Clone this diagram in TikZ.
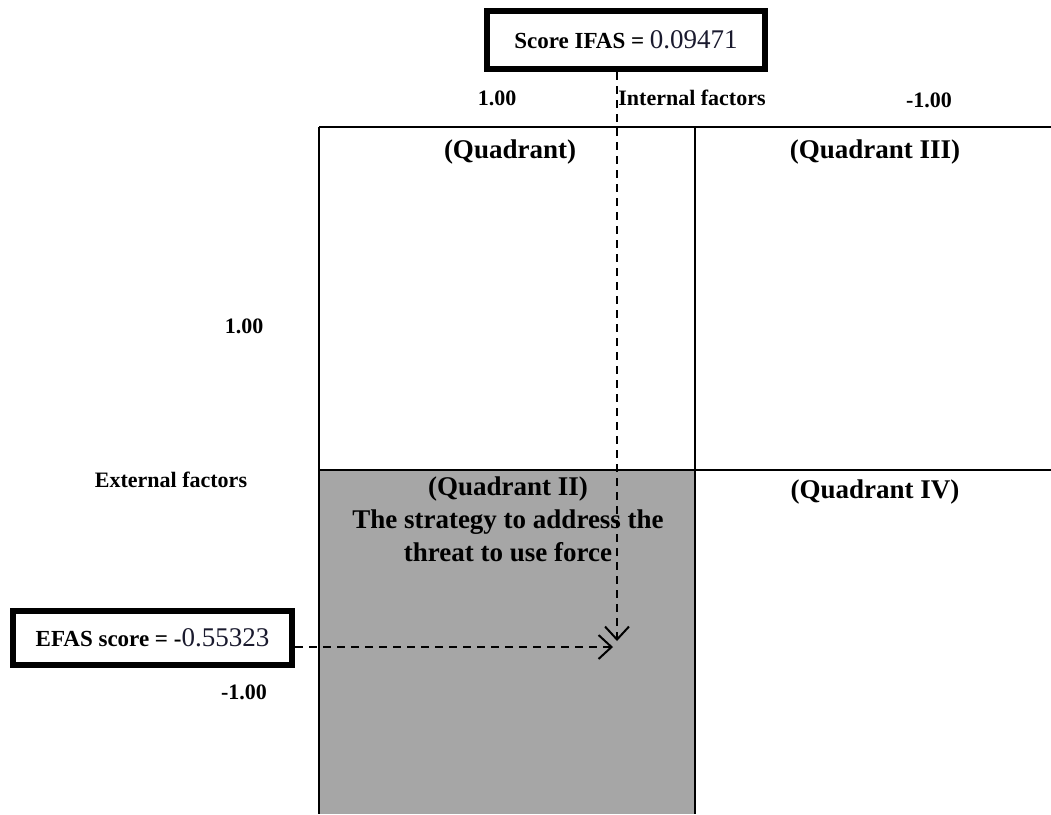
\documentclass[tikz,border=0pt]{standalone}
\usepackage{fontspec}
\setmainfont{Liberation Serif}
\usetikzlibrary{arrows.meta}
\definecolor{quadgray}{HTML}{A6A6A6}
\definecolor{numcol}{HTML}{1A1A2E}
\tikzset{
  lbl/.style={font=\fontsize{22}{26}\selectfont\bfseries, inner sep=0pt},
  quad/.style={font=\fontsize{27}{33}\selectfont\bfseries, inner sep=0pt, align=center},
  scorebox/.style={draw, line width=6pt, inner sep=0pt, font=\fontsize{23}{26}\selectfont\bfseries},
  gridline/.style={line width=1.2pt},
  dashline/.style={line width=2pt, dash pattern=on 8pt off 6pt, -{Straight Barb[length=13pt,width=24pt,line width=2pt]}}
}
\begin{document}
\begin{tikzpicture}[x=1pt,y=-1pt]
\useasboundingbox (0,0) rectangle (1051,814);
% gray quadrant
\fill[quadgray] (319,470) rectangle (695,814);
% grid
\draw[gridline] (319,127) -- (1051,127);
\draw[gridline] (319,470) -- (1051,470);
\draw[gridline] (319,127) -- (319,814);
\draw[gridline] (695,127) -- (695,814);
% axis labels
\node[lbl] (t1) at (497,98) {1.00};
\node[lbl] (tint) at (692,98) {Internal factors};
\node[lbl] (tm1) at (929,100) {-1.00};
\node[lbl] (l1) at (244,326) {1.00};
\node[lbl] (lext) at (171,480) {External factors};
\node[lbl] (lm1) at (244,692) {-1.00};
% quadrant labels
\node[quad] (q1) at (510,152) {(Quadrant)};
\node[quad] (q3) at (875,152) {(Quadrant III)};
\node[quad, anchor=north] (q2) at (508,477) {(Quadrant II)\\The strategy to address the\\threat to use force};
\node[quad] (q4) at (875,492) {(Quadrant IV)};
% score boxes
\node[scorebox, minimum width=278pt, minimum height=58pt] (ifas) at (626,40)
  {Score IFAS = {\mdseries\fontsize{27}{30}\selectfont\color{numcol}0.09471}};
\node[scorebox, minimum width=279pt, minimum height=54pt] (efas) at (152.5,638)
  {EFAS score = -{\mdseries\fontsize{27}{30}\selectfont\color{numcol}0.55323}};
% arrows
\coordinate (tipv) at (617,641);
\coordinate (tiph) at (613,647);
\draw[dashline] (ifas.south -| tipv) -- (tipv);
\draw[dashline] (efas.east |- tiph) -- (tiph);
\end{tikzpicture}
\end{document}
